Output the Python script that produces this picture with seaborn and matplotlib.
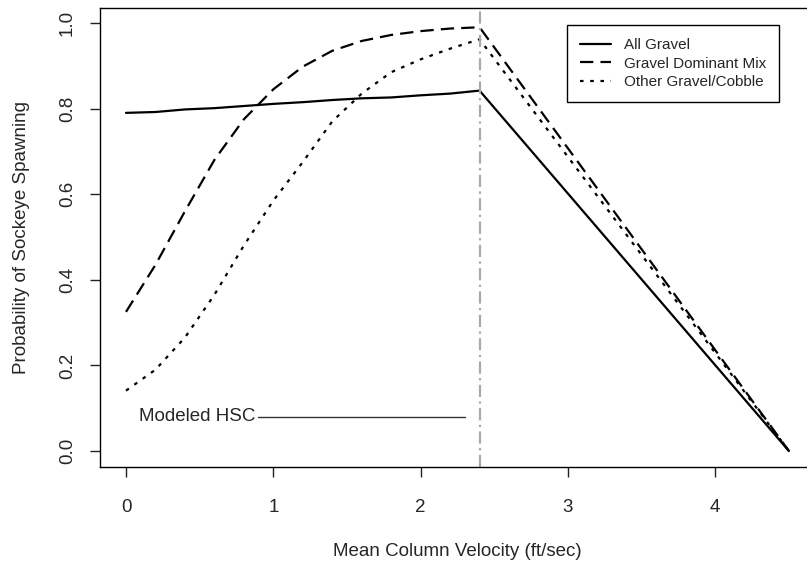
import matplotlib
matplotlib.use("Agg")
import matplotlib.pyplot as plt
import seaborn as sns
import pandas as pd

# ---- data ----
velocity = [0.0, 0.2, 0.4, 0.6, 0.8, 1.0, 1.2, 1.4, 1.6, 1.8, 2.0, 2.2, 2.4, 4.5]
all_gravel = [0.790, 0.792, 0.798, 0.801, 0.806, 0.811, 0.815, 0.820, 0.824,
              0.826, 0.831, 0.835, 0.842, 0.0]
gravel_dominant = [0.325, 0.435, 0.560, 0.680, 0.775, 0.845, 0.898, 0.935,
                   0.958, 0.972, 0.981, 0.987, 0.990, 0.0]
other_gravel = [0.141, 0.190, 0.265, 0.365, 0.480, 0.585, 0.675, 0.770,
                0.835, 0.885, 0.915, 0.940, 0.962, 0.0]
series_names = ["All Gravel", "Gravel Dominant Mix", "Other Gravel/Cobble"]
x_ticks = [0, 1, 2, 3, 4]
x_tick_labels = ["0", "1", "2", "3", "4"]
y_ticks = [0.0, 0.2, 0.4, 0.6, 0.8, 1.0]
y_tick_labels = ["0.0", "0.2", "0.4", "0.6", "0.8", "1.0"]
hsc_velocity = 2.4
hsc_label = "Modeled HSC"
hsc_label_x = 0.088
hsc_line_x = [0.896, 2.30]
hsc_y = 0.08
x_label = "Mean Column Velocity (ft/sec)"
y_label = "Probability of Sockeye Spawning"

df = pd.DataFrame({
    "velocity": velocity * 3,
    "prob": all_gravel + gravel_dominant + other_gravel,
    "series": sum([[n] * len(velocity) for n in series_names], []),
})

sns.set_style("white")
plt.rcParams["font.family"] = ["Liberation Sans", "DejaVu Sans"]

fig = plt.figure(figsize=(8.07, 5.65), dpi=100)
W, H = 807, 565
ax = fig.add_axes([100 / W, 1 - 467 / H, 715 / W, 459 / H])

dash_styles = {
    "All Gravel": "",
    "Gravel Dominant Mix": (6.0, 3.2),
    "Other Gravel/Cobble": (1.6, 3.0),
}
sns.lineplot(data=df, x="velocity", y="prob", style="series",
             style_order=series_names, dashes=dash_styles, color="black",
             linewidth=1.6, ax=ax, legend=False, estimator=None, sort=False)

ax.axvline(hsc_velocity, color="#a9a9a9", linewidth=1.6,
           dashes=(5.5, 2.0, 1.0, 2.0))

ax.text(hsc_label_x, hsc_y, hsc_label, ha="left", va="center", fontsize=13.5)
ax.plot(hsc_line_x, [hsc_y, hsc_y], color="#333333", linewidth=1.0)

ax.set_xlim(-0.1765, 4.677)
ax.set_ylim(-0.0374, 1.035)
ax.set_xticks(x_ticks)
ax.set_xticklabels(x_tick_labels)
ax.set_yticks(y_ticks)
ax.set_yticklabels(y_tick_labels, rotation=90, va="center")
ax.tick_params(axis="both", direction="out", length=7.2, width=1.0,
               color="#222222", labelsize=13.5, bottom=True, left=True)
ax.tick_params(axis="x", pad=15.5)
ax.tick_params(axis="y", pad=10)
ax.set_xlabel(x_label, fontsize=13.5, labelpad=20)
ax.set_ylabel(y_label, fontsize=13.5, labelpad=21)
for sp in ax.spines.values():
    sp.set_visible(True)
    sp.set_color("black")
    sp.set_linewidth(1.0)

handles = ax.get_lines()[:3]
leg = ax.legend(handles, series_names, loc="upper right",
                bbox_to_anchor=(779 / W, 1 - 25 / H),
                bbox_transform=fig.transFigure, borderaxespad=0,
                fontsize=11, frameon=True, fancybox=False, framealpha=1,
                edgecolor="black", handlelength=2.0, handletextpad=0.85,
                labelspacing=0.3, borderpad=0.85)
leg.get_frame().set_linewidth(1.0)

fig.savefig("out.png", dpi=100)
